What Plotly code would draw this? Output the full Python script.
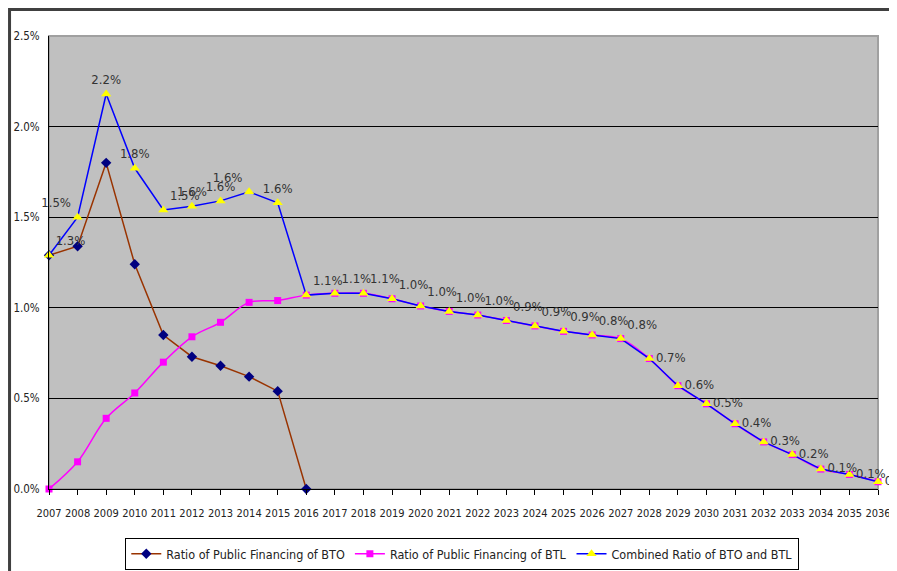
import plotly.graph_objects as go

years = list(range(2007, 2037))

# ratio of public financing (%)
bto = [1.29, 1.34, 1.80, 1.24, 0.85, 0.73, 0.68, 0.62, 0.54, 0.0]
btl = [0.0, 0.15, 0.39, 0.53, 0.70, 0.84, 0.92, 1.03, 1.04, 1.07,
       1.08, 1.08, 1.05, 1.01, 0.98, 0.96, 0.93, 0.90, 0.87, 0.85,
       0.83, 0.72, 0.57, 0.47, 0.36, 0.26, 0.19, 0.11, 0.08, 0.04]
combined = [1.29, 1.50, 2.18, 1.77, 1.54, 1.56, 1.59, 1.64, 1.58, 1.07,
            1.08, 1.08, 1.05, 1.01, 0.98, 0.96, 0.93, 0.90, 0.87, 0.85,
            0.83, 0.72, 0.57, 0.47, 0.36, 0.26, 0.19, 0.11, 0.08, 0.04]
combined_labels = ["1.3%", "1.5%", "2.2%", "1.8%", "1.5%", "1.6%", "1.6%", "1.6%", "1.6%", "1.1%",
                   "1.1%", "1.1%", "1.0%", "1.0%", "1.0%", "1.0%", "0.9%", "0.9%", "0.9%", "0.8%",
                   "0.8%", "0.7%", "0.6%", "0.5%", "0.4%", "0.3%", "0.2%", "0.1%", "0.1%", "0.0%"]
y_ticks = [0, 0.5, 1.0, 1.5, 2.0, 2.5]

label_pos = (["top right", "top left", "top center", "top center", "top right",
              "top center", "top center", "top left", "top center"]
             + ["top right"] * 12 + ["middle right"] * 9)

FONT = "DejaVu Sans Condensed, Liberation Sans Narrow, sans-serif"

fig = go.Figure()

# BTO
fig.add_trace(go.Scatter(
    x=years[:len(bto)], y=bto,
    mode="lines+markers",
    name="Ratio of Public Financing of BTO",
    line=dict(color="#993300", width=1.5),
    marker=dict(symbol="diamond", size=8, color="#000080"),
    cliponaxis=False
))

# BTL
fig.add_trace(go.Scatter(
    x=years, y=btl,
    mode="lines+markers",
    name="Ratio of Public Financing of BTL",
    line=dict(color="#FF00FF", width=1.5, shape="spline"),
    marker=dict(symbol="square", size=7, color="#FF00FF"),
    cliponaxis=False
))

# Combined
fig.add_trace(go.Scatter(
    x=years, y=combined,
    mode="lines+markers+text",
    name="Combined Ratio of BTO and BTL",
    line=dict(color="#0000FF", width=1.5),
    marker=dict(symbol="triangle-up", size=9, color="#FFFF00"),
    text=combined_labels,
    textposition=label_pos,
    textfont=dict(family=FONT, size=13, color="#333333"),
    cliponaxis=False
))

# plot-area frame (grey top/right) and outer chart border
fig.add_shape(type="rect", xref="paper", yref="paper", x0=0, x1=1, y0=0, y1=1,
              line=dict(color="#A0A0A0", width=2), layer="below")
fig.add_shape(type="rect", xref="paper", yref="paper",
              x0=-0.0476, x1=1.1, y0=-0.3, y1=1.0585,
              line=dict(color="#404040", width=3))

# page body adds 8px around the figure, so the figure is 8px smaller
fig.update_layout(
    width=889, height=563,
    margin=dict(l=41, r=19, t=28, b=82),
    paper_bgcolor="white",
    plot_bgcolor="#C0C0C0",
    font=dict(family=FONT, size=12, color="#333333"),
    showlegend=True,
    legend=dict(
        orientation="h",
        xref="container", yref="container",
        x=0.511, xanchor="center",
        y=0.03, yanchor="middle",
        bordercolor="black", borderwidth=1,
        bgcolor="white",
        font=dict(family=FONT, size=12.5, color="#222222"),
        itemwidth=30,
        tracegroupgap=0
    ),
    xaxis=dict(
        range=[2007, 2036],
        tickmode="array", tickvals=years,
        ticktext=[str(y) for y in years],
        tickangle=0,
        ticks="outside", ticklen=5, tickcolor="black",
        ticklabelstandoff=9,
        showline=True, linecolor="black", linewidth=1,
        showgrid=False, zeroline=False,
        automargin=False,
        tickfont=dict(family=FONT, size=11, color="#222222")
    ),
    yaxis=dict(
        range=[0, 2.5],
        tickmode="array", tickvals=y_ticks,
        ticktext=[f"{v:.1f}%" for v in y_ticks],
        showline=True, linecolor="black", linewidth=1,
        showgrid=True, gridcolor="black", gridwidth=1,
        zeroline=False,
        ticklabelstandoff=6,
        automargin=False,
        tickfont=dict(family=FONT, size=11.5, color="#222222")
    )
)

fig.write_html("out.html")
